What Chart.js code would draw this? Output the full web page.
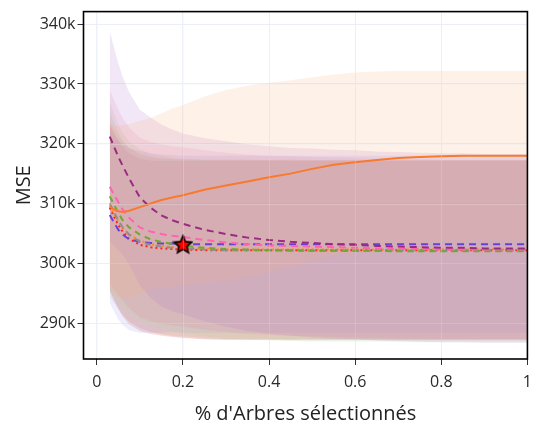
<!DOCTYPE html>
<html><head><meta charset="utf-8">
<script src="https://cdn.jsdelivr.net/npm/chart.js@4"></script>
<style>html,body{margin:0;padding:0;background:#fff}</style>
</head><body>
<canvas id="c" width="540" height="423"></canvas>
<script>
// x: fraction of trees selected
const xValues = [0.03,0.04,0.05,0.06,0.075,0.1,0.125,0.15,0.175,0.2,0.25,0.3,0.35,0.4,0.45,0.5,0.55,0.6,0.65,0.7,0.75,0.8,0.85,0.9,0.95,1.0];
// MSE means (thousands)
const orangeMean = [309.5,309.0,308.7,308.6,308.8,309.4,310.0,310.6,311.0,311.4,312.3,313.0,313.7,314.4,315.0,315.8,316.5,316.9,317.3,317.6,317.8,317.9,318.0,318.0,318.0,318.0];
const purpleMean = [321.2,319.5,317.8,316.3,314.2,311.0,309.3,308.0,307.2,306.6,305.6,304.9,304.3,303.9,303.6,303.4,303.2,303.1,302.9,302.8,302.7,302.6,302.6,302.5,302.5,302.5];
const pinkMean   = [312.8,311.5,310.2,309.0,307.6,306.0,305.3,304.9,304.6,304.4,303.9,303.5,303.2,303.0,302.9,302.8,302.7,302.6,302.5,302.4,302.4,302.3,302.3,302.3,302.3,302.3];
const greenMean  = [311.2,309.8,308.4,307.2,306.0,304.8,304.0,303.6,303.2,302.9,302.6,302.4,302.3,302.2,302.2,302.1,302.1,302.1,302.1,302.0,302.0,302.0,302.0,302.0,302.0,302.0];
const grayMean   = [310.0,308.5,307.2,306.0,304.8,303.6,303.1,302.8,302.6,302.5,302.3,302.2,302.2,302.2,302.1,302.1,302.1,302.1,302.1,302.1,302.1,302.1,302.1,302.1,302.1,302.1];
const blueMean   = [308.1,306.8,305.6,304.8,304.0,303.6,303.4,303.3,303.3,303.2,303.2,303.2,303.2,303.2,303.2,303.2,303.2,303.2,303.2,303.2,303.2,303.2,303.2,303.2,303.2,303.2];
const redMean    = [309.3,307.8,306.4,305.3,304.1,303.1,302.7,302.5,302.4,302.3,302.2,302.2,302.2,302.2,302.2,302.2,302.2,302.2,302.2,302.2,302.2,302.2,302.2,302.2,302.2,302.2];
const amberMean  = [309.6,308.2,307.0,305.9,304.8,303.8,303.2,302.9,302.7,302.6,302.4,302.3,302.3,302.3,302.3,302.3,302.3,302.3,302.3,302.3,302.3,302.3,302.3,302.3,302.3,302.3];
// standard deviations (thousands)
const orangeStd = [13.7,14.0,14.3,14.5,14.5,14.4,14.3,14.5,14.9,15.1,15.6,16.0,16.0,15.8,15.6,15.3,15.1,15.0,14.8,14.6,14.4,14.3,14.2,14.2,14.2,14.2];
const purpleStd = [17.6,16.5,15.6,14.9,14.4,14.7,15.1,15.2,15.2,15.1,15.3,15.5,15.6,15.7,15.7,15.8,15.8,15.8,15.8,15.8,15.8,15.8,15.8,15.8,15.8,15.8];
const pinkStd   = [16.2,15.8,15.5,15.3,15.1,15.0,15.0,15.0,15.0,15.0,15.0,15.0,15.0,15.0,15.0,15.0,15.0,15.0,15.0,15.0,15.0,15.0,15.0,15.0,15.0,15.0];
const greenStd  = [15.8,15.3,14.9,14.6,14.4,14.3,14.3,14.4,14.5,14.6,14.8,15.0,15.1,15.1,15.2,15.2,15.2,15.2,15.2,15.2,15.2,15.2,15.2,15.2,15.2,15.2];
const grayStd   = [15.5,15.1,14.8,14.6,14.5,14.5,14.6,14.7,14.8,14.9,15.0,15.0,15.0,15.0,15.0,15.0,15.0,15.0,15.0,15.0,15.0,15.0,15.0,15.0,15.0,15.0];
const blueStd   = [14.7,14.8,15.0,15.1,15.2,15.2,15.0,14.9,14.8,14.8,14.8,14.8,14.8,14.8,14.8,14.8,14.8,14.8,14.8,14.8,14.8,14.8,14.8,14.8,14.8,14.8];
const redStd    = [13.9,14.0,14.1,14.2,14.3,14.4,14.5,14.6,14.7,14.8,14.9,15.0,15.0,15.0,15.0,15.0,15.0,15.0,15.0,15.0,15.0,15.0,15.0,15.0,15.0,15.0];
const amberStd  = [14.2,14.3,14.4,14.5,14.6,14.6,14.7,14.7,14.8,14.8,14.9,15.0,15.0,15.0,15.0,15.0,15.0,15.0,15.0,15.0,15.0,15.0,15.0,15.0,15.0,15.0];
// best point
const bestX = [0.2];
const bestY = [303.2];
const yTickValues = [290,300,310,320,330,340];
const xTickValues = [0,0.2,0.4,0.6,0.8,1];

const series = [
  {mean: orangeMean, std: orangeStd, color:'#f97a2c', band:'rgba(252,170,120,0.17)', dash:[]},
  {mean: purpleMean, std: purpleStd, color:'#9a2b82', band:'rgba(170,110,200,0.17)', dash:[7,5]},
  {mean: pinkMean,   std: pinkStd,   color:'#ff63b0', band:'rgba(240,130,170,0.17)', dash:[7,5]},
  {mean: greenMean,  std: greenStd,  color:'#72a832', band:'rgba(170,210,140,0.16)', dash:[6,5]},
  {mean: grayMean,   std: grayStd,   color:'#8e8e8e', band:'rgba(170,170,170,0.16)', dash:[6,5]},
  {mean: blueMean,   std: blueStd,   color:'#6b40d4', band:'rgba(150,150,235,0.17)', dash:[7,5]},
  {mean: amberMean,  std: amberStd,  color:'#ff8a1c', band:'rgba(240,150,90,0.17)', dash:[2,3]},
  {mean: redMean,    std: redStd,    color:'#ff2222', band:'rgba(220,85,85,0.2)', dash:[2,3]},
];

const datasets = [];
series.forEach(s => {
  datasets.push({data: xValues.map((x,i)=>({x, y: s.mean[i]+s.std[i]})), borderWidth:0, pointRadius:0, fill:'+1', backgroundColor:s.band, order:10});
  datasets.push({data: xValues.map((x,i)=>({x, y: s.mean[i]-s.std[i]})), borderWidth:0, pointRadius:0, fill:false, order:10});
});
series.forEach(s => {
  datasets.push({data: xValues.map((x,i)=>({x, y: s.mean[i]})), borderColor:s.color, borderWidth:2, borderDash:s.dash, pointRadius:0, fill:false, order:2, tension:0});
});

function makeStar(size){
  const c = document.createElement('canvas'); c.width = c.height = size;
  const g = c.getContext('2d');
  const cx = size/2, cy = size/2 + 0.8, R = size/2 - 1.2, r = R*0.45;
  g.beginPath();
  for (let k=0;k<10;k++){
    const ang = -Math.PI/2 + k*Math.PI/5;
    const rr = k%2===0 ? R : r;
    const px = cx + rr*Math.cos(ang), py = cy + rr*Math.sin(ang);
    k===0 ? g.moveTo(px,py) : g.lineTo(px,py);
  }
  g.closePath();
  g.fillStyle = '#ff0000'; g.fill();
  g.lineWidth = 1.6; g.strokeStyle = '#000'; g.lineJoin='miter'; g.stroke();
  return c;
}
datasets.push({type:'scatter', data: bestX.map((x,i)=>({x, y: bestY[i]})), pointStyle: makeStar(21), pointRadius: 10, order:0});

const gridOverlay = {
  id:'gridOverlay',
  afterDatasetsDraw(chart){
    const {ctx, chartArea:a, scales:{x,y}} = chart;
    ctx.save();
    ctx.strokeStyle = 'rgba(235,238,248,0.28)'; ctx.lineWidth = 1;
    xTickValues.forEach(v => { const px = Math.round(x.getPixelForValue(v))+0.5; ctx.beginPath(); ctx.moveTo(px,a.top); ctx.lineTo(px,a.bottom); ctx.stroke(); });
    yTickValues.forEach(v => { const py = Math.round(y.getPixelForValue(v))+0.5; ctx.beginPath(); ctx.moveTo(a.left,py); ctx.lineTo(a.right,py); ctx.stroke(); });
    ctx.restore();
  },
  afterDraw(chart){
    const {ctx, chartArea:a} = chart;
    ctx.save(); ctx.strokeStyle = '#000'; ctx.lineWidth = 1.6;
    ctx.strokeRect(a.left, a.top, a.right-a.left, a.bottom-a.top);
    ctx.restore();
  }
};

new Chart(document.getElementById('c'), {
  type:'line',
  data:{datasets},
  plugins:[gridOverlay],
  options:{
    responsive:false, animation:false, devicePixelRatio:1,
    layout:{padding:{top:10,right:8,left:0,bottom:0}},
    plugins:{legend:{display:false}, tooltip:{enabled:false}},
    scales:{
      x:{type:'linear', min:-0.031, max:1,
        afterFit(s){ s.height = 64; },
        afterBuildTicks(s){ s.ticks = xTickValues.map(v=>({value:v})); },
        ticks:{color:'#2a2a2a', font:{family:'"Open Sans"', size:16}, padding:8, maxRotation:0, callback:v=>String(v)},
        grid:{color:'#eef0f7', tickColor:'#333', tickLength:6, drawTicks:true},
        border:{display:false},
        title:{display:true, text:"% d'Arbres sélectionnés", color:'#222', font:{family:'"Open Sans"', size:20, lineHeight:1}, padding:{top:0,bottom:-1}}
      },
      y:{type:'linear', min:284.0, max:342.1,
        afterFit(s){ s.width = 83.5; },
        afterBuildTicks(s){ s.ticks = yTickValues.map(v=>({value:v})); },
        ticks:{color:'#2a2a2a', font:{family:'"Open Sans"', size:16}, padding:2, callback:v=>v+'k'},
        grid:{color:'#eef0f7', tickColor:'#333', tickLength:6, drawTicks:true},
        border:{display:false},
        title:{display:true, text:'MSE', color:'#222', font:{family:'"Open Sans"', size:20, lineHeight:1}, padding:{top:14.5,bottom:0}}
      }
    }
  }
});
</script>
</body></html>
